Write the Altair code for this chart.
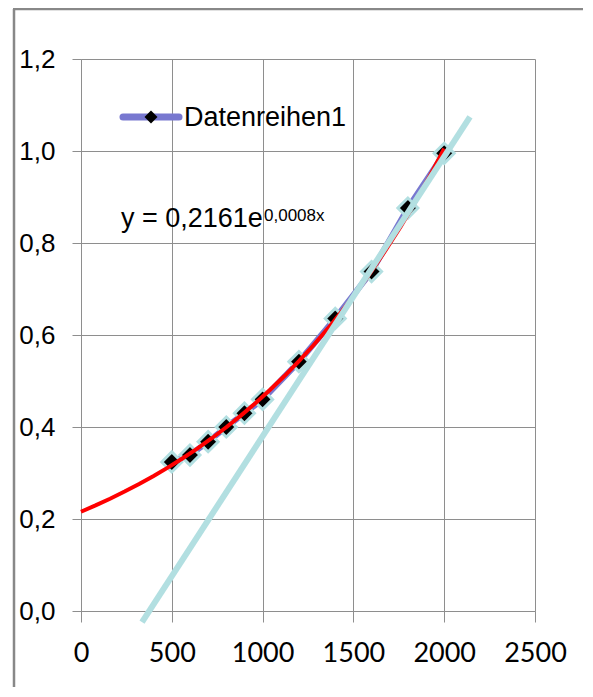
import altair as alt
import pandas as pd

# measured data series (Datenreihen1)
x_vals = [500, 600, 700, 800, 900, 1000, 1200, 1400, 1600, 1800, 2000]
y_vals = [0.324, 0.339, 0.368, 0.400, 0.430, 0.460, 0.542, 0.636, 0.738, 0.876, 0.995]

# straight light-blue line (two end points)
line_x = [336, 2142]
line_y = [-0.024, 1.074]

x_ticks = [0, 500, 1000, 1500, 2000, 2500]
y_ticks = [0.0, 0.2, 0.4, 0.6, 0.8, 1.0, 1.2]

legend_label = "Datenreihen1"
eq_main = "y = 0,2161e"
eq_sup = "0,0008x"

df = pd.DataFrame({"x": x_vals, "y": y_vals})
df_line = pd.DataFrame({"x": line_x, "y": line_y})

PURPLE = "#7878d0"
CYAN = "#b2dfe1"
RED = "#ff0000"
GRID = "#8e8e8e"

xs = alt.Scale(domain=[0, 2500], nice=False, zero=False)
ys = alt.Scale(domain=[0, 1.2], nice=False, zero=False)

x_enc = alt.X("x:Q", scale=xs, axis=alt.Axis(
    values=x_ticks, format="d", title=None, grid=True, gridColor=GRID,
    domainColor=GRID, tickColor=GRID, tickSize=11, labelPadding=18,
    labelFont="Lato", labelFontSize=27, labelColor="#000000",
    labelFlush=False, labelOverlap=False))
y_enc = alt.Y("y:Q", scale=ys, axis=alt.Axis(
    values=y_ticks, labelExpr="replace(format(datum.value, '.1f'), '.', ',')",
    title=None, grid=True, gridColor=GRID, domainColor=GRID, tickColor=GRID,
    tickSize=9, labelPadding=17, labelFont="Liberation Sans", labelFontSize=26,
    labelColor="#000000", labelFlush=False, labelOverlap=False))

base = alt.Chart(df)

series_line = base.mark_line(color=PURPLE, strokeWidth=6).encode(x=x_enc, y=y_enc)
series_pts = base.mark_point(shape="diamond", filled=True, size=400, fill="#000000",
                             stroke=CYAN, strokeWidth=3, opacity=1).encode(x="x:Q", y="y:Q")
trend = base.transform_regression("x", "y", method="exp", extent=[0, 2000]).mark_line(
    color=RED, strokeWidth=4).encode(x="x:Q", y="y:Q")
straight = alt.Chart(df_line).mark_line(color=CYAN, strokeWidth=6).encode(x="x:Q", y="y:Q")

one = alt.Data(values=[{"a": 1}])

# legend (drawn by hand, inside the plot)
leg_line = alt.Chart(one).mark_rule(color=PURPLE, strokeWidth=7, strokeCap="round").encode(
    x=alt.value(42), x2=alt.value(98), y=alt.value(58))
leg_pt = alt.Chart(one).mark_point(shape="diamond", filled=True, size=170, color="#000000",
                                   opacity=1).encode(x=alt.value(70), y=alt.value(58))
leg_txt = alt.Chart(one).mark_text(text=legend_label, align="left", baseline="middle",
                                   font="Liberation Sans", fontSize=27, color="#000000").encode(
    x=alt.value(103), y=alt.value(59))

eq1 = alt.Chart(one).mark_text(text=eq_main, align="left", baseline="alphabetic",
                               font="Liberation Sans", fontSize=27, color="#000000").encode(
    x=alt.value(40), y=alt.value(168))
eq2 = alt.Chart(one).mark_text(text=eq_sup, align="left", baseline="alphabetic",
                               font="Liberation Sans", fontSize=17, color="#000000").encode(
    x=alt.value(183), y=alt.value(162))

# outer frame (left and top edges)
frame_l = alt.Chart(one).mark_rule(color="#888888", strokeWidth=2.5).encode(
    x=alt.value(-67), y=alt.value(-50), y2=alt.value(640))
frame_t = alt.Chart(one).mark_rule(color="#888888", strokeWidth=2.5).encode(
    x=alt.value(-68), x2=alt.value(502), y=alt.value(-50))

chart = alt.layer(series_line, series_pts, trend, straight,
                  leg_line, leg_pt, leg_txt, eq1, eq2, frame_l, frame_t).properties(
    width=454, height=552, autosize="none",
    padding={"left": 73, "top": 51, "right": 48, "bottom": 76},
    background="#ffffff"
).configure_view(stroke=None)

chart.save("out.html", embed_options={"renderer": "svg", "actions": False})
